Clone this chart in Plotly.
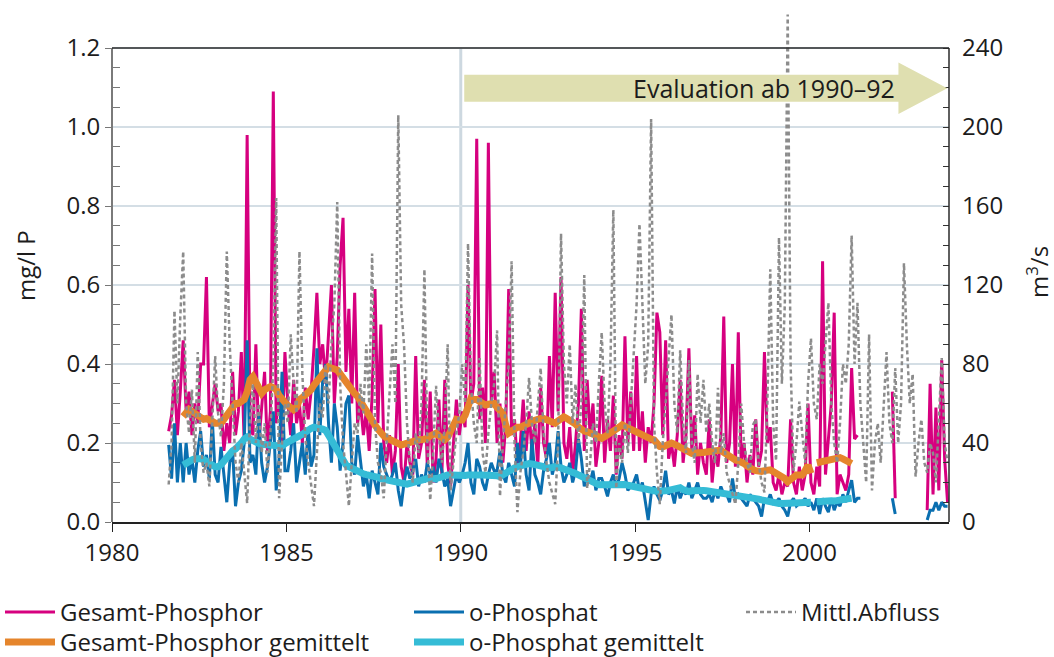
import pandas as pd
import plotly.graph_objects as go

N = None

# Monthly sampling (mid-month), Aug 1981 – Dec 2003
months = pd.period_range("1981-08", "2003-12", freq="M")
t = [p.year + (p.month - 0.5) / 12 for p in months]

# Gesamt-Phosphor, mg/l P
gesamt_p = [
    0.23, 0.27, 0.36, 0.22, 0.33,                                        # 1981
    0.46, 0.28, 0.33, 0.22, 0.30, 0.25, 0.40, 0.40, 0.62, 0.24, 0.30, 0.35,  # 1982
    0.28, 0.30, 0.18, 0.25, 0.20, 0.38, 0.22, 0.28, 0.43, 0.20, 0.98, 0.25,  # 1983
    0.22, 0.45, 0.20, 0.30, 0.38, 0.18, 0.28, 1.09, 0.25, 0.33, 0.20, 0.43,  # 1984
    0.30, 0.22, 0.36, 0.25, 0.30, 0.20, 0.34, 0.26, 0.33, 0.44, 0.58, 0.40,  # 1985
    0.45, 0.35, 0.48, 0.60, 0.30, 0.42, 0.65, 0.77, 0.38, 0.54, 0.30, 0.58,  # 1986
    0.25, 0.30, 0.22, 0.28, 0.18, 0.32, 0.59, 0.25, 0.50, 0.20, 0.15, 0.22,  # 1987
    0.12, 0.18, 0.40, 0.14, 0.10, 0.20, 0.15, 0.12, 0.42, 0.16, 0.20, 0.36,  # 1988
    0.14, 0.33, 0.10, 0.16, 0.31, 0.12, 0.36, 0.15, 0.09, 0.20, 0.31, 0.22,  # 1989
    0.28, 0.24, 0.60, 0.30, 0.35, 0.97, 0.26, 0.34, 0.20, 0.96, 0.30, 0.38,  # 1990
    0.20, 0.30, 0.15, 0.25, 0.59, 0.22, 0.26, 0.14, 0.20, 0.31, 0.18, 0.28,  # 1991
    0.18, 0.25, 0.14, 0.34, 0.20, 0.16, 0.42, 0.24, 0.58, 0.28, 0.62, 0.20,  # 1992
    0.16, 0.24, 0.12, 0.20, 0.30, 0.54, 0.18, 0.36, 0.22, 0.30, 0.14, 0.20,  # 1993
    0.37, 0.15, 0.26, 0.18, 0.32, 0.12, 0.22, 0.16, 0.47, 0.20, 0.33, 0.18,  # 1994
    0.42, 0.18, 0.28, 0.15, 0.24, 0.20, 0.30, 0.53, 0.48, 0.22, 0.46, 0.16,  # 1995
    0.20, 0.14, 0.22, 0.36, 0.15, 0.22, 0.44, 0.18, 0.27, 0.12, 0.20, 0.15,  # 1996
    0.12, 0.26, 0.10, 0.18, 0.14, 0.22, 0.52, 0.15, 0.20, 0.40, 0.14, 0.48,  # 1997
    0.15, 0.20, 0.10, 0.17, 0.12, 0.26, 0.14, 0.18, 0.43, 0.20, 0.24, 0.10,  # 1998
    0.08, 0.12, 0.07, 0.10, 0.09, 0.26, 0.10, 0.07, 0.14, 0.08, 0.12, 0.30,  # 1999
    0.10, 0.07, 0.14, 0.09, 0.66, 0.12, 0.20, 0.30, 0.53, 0.07, 0.12, 0.10,  # 2000
    0.08, 0.12, 0.39, 0.21, 0.22, N, N, N, N, N, N, N,                       # 2001
    N, N, N, N, 0.33, 0.06, N, N, N, N, N, N,                                # 2002
    N, N, N, N, 0.03, 0.35, 0.07, 0.29, 0.08, 0.41, 0.16, 0.05,              # 2003
]

# o-Phosphat, mg/l P
ortho_p = [
    0.195, 0.11, 0.25, 0.10, 0.20,                                        # 1981
    0.10, 0.20, 0.12, 0.16, 0.10, 0.18, 0.23, 0.14, 0.17, 0.11, 0.26, 0.12,  # 1982
    0.10, 0.19, 0.12, 0.05, 0.15, 0.18, 0.04, 0.10, 0.13, 0.20, 0.46, 0.15,  # 1983
    0.17, 0.12, 0.27, 0.15, 0.10, 0.14, 0.20, 0.28, 0.08, 0.16, 0.38, 0.13,  # 1984
    0.13, 0.18, 0.25, 0.10, 0.15, 0.20, 0.12, 0.24, 0.14, 0.17, 0.44, 0.22,  # 1985
    0.36, 0.40, 0.25, 0.15, 0.30, 0.24, 0.13, 0.20, 0.30, 0.32, 0.15, 0.12,  # 1986
    0.22, 0.15, 0.09, 0.12, 0.06, 0.13, 0.10, 0.07, 0.20, 0.14, 0.12, 0.10,  # 1987
    0.12, 0.15, 0.08, 0.04, 0.10, 0.14, 0.11, 0.13, 0.16, 0.09, 0.12, 0.10,  # 1988
    0.15, 0.12, 0.14, 0.10, 0.16, 0.13, 0.09, 0.11, 0.04, 0.08, 0.12, 0.10,  # 1989
    0.12, 0.15, 0.20, 0.10, 0.07, 0.16, 0.14, 0.10, 0.08, 0.12, 0.15, 0.13,  # 1990
    0.13, 0.18, 0.12, 0.10, 0.15, 0.12, 0.09, 0.20, 0.14, 0.23, 0.12, 0.08,  # 1991
    0.21, 0.12, 0.10, 0.07, 0.13, 0.16, 0.20, 0.12, 0.15, 0.23, 0.14, 0.10,  # 1992
    0.12, 0.15, 0.10, 0.13, 0.21, 0.16, 0.09, 0.12, 0.10, 0.13, 0.08, 0.11,  # 1993
    0.11, 0.09, 0.065, 0.10, 0.12, 0.09, 0.11, 0.15, 0.12, 0.08, 0.09, 0.10,  # 1994
    0.12, 0.08, 0.10, 0.05, 0.005, 0.07, 0.09, 0.07, 0.055, 0.08, 0.13, 0.07,  # 1995
    0.08, 0.047, 0.09, 0.06, 0.08, 0.07, 0.10, 0.06, 0.08, 0.10, 0.07, 0.06,  # 1996
    0.06, 0.07, 0.05, 0.08, 0.06, 0.09, 0.07, 0.07, 0.05, 0.11, 0.06, 0.07,  # 1997
    0.06, 0.05, 0.04, 0.07, 0.06, 0.05, 0.04, 0.014, 0.06, 0.05, 0.07, 0.047,  # 1998
    0.05, 0.06, 0.04, 0.03, 0.014, 0.05, 0.06, 0.04, 0.047, 0.05, 0.06, 0.04,  # 1999
    0.05, 0.03, 0.06, 0.02, 0.06, 0.04, 0.025, 0.06, 0.03, 0.05, 0.04, 0.07,  # 2000
    0.05, 0.08, 0.106, 0.05, 0.06, 0.06, N, N, N, N, N, N,                  # 2001
    N, N, N, N, 0.06, 0.02, N, N, N, N, N, N,                                # 2002
    N, N, N, N, 0.005, 0.03, 0.03, 0.05, 0.03, 0.05, 0.04, 0.04,            # 2003
]

# Gesamt-Phosphor, gleitendes Mittel
gesamt_p_mittel = [
    N, N, N, N, N,                                                                       # 1981
    0.267, 0.28, 0.285, 0.28, 0.275, 0.27, 0.265, 0.26, 0.262, 0.26, 0.255, 0.25,        # 1982
    0.25, 0.25, 0.26, 0.27, 0.28, 0.29, 0.30, 0.30, 0.305, 0.31, 0.33, 0.36,             # 1983
    0.368, 0.355, 0.34, 0.326, 0.335, 0.34, 0.343, 0.34, 0.335, 0.32, 0.31, 0.30,        # 1984
    0.295, 0.29, 0.284, 0.29, 0.31, 0.315, 0.32, 0.326, 0.335, 0.347, 0.355, 0.365,      # 1985
    0.376, 0.385, 0.393, 0.39, 0.388, 0.385, 0.375, 0.364, 0.352, 0.343, 0.332, 0.325,   # 1986
    0.318, 0.305, 0.29, 0.28, 0.27, 0.255, 0.245, 0.235, 0.225, 0.218, 0.213, 0.21,      # 1987
    0.208, 0.205, 0.20, 0.195, 0.197, 0.20, 0.203, 0.205, 0.207, 0.208, 0.208, 0.208,    # 1988
    0.212, 0.218, 0.222, 0.225, 0.218, 0.212, 0.208, 0.215, 0.228, 0.242, 0.26, 0.258,   # 1989
    0.258, 0.27, 0.29, 0.313, 0.31, 0.31, 0.305, 0.30, 0.296, 0.298, 0.30, 0.30,         # 1990
    0.29, 0.283, 0.275, 0.245, 0.225, 0.23, 0.237, 0.24, 0.24, 0.242, 0.245, 0.25,       # 1991
    0.255, 0.258, 0.26, 0.262, 0.262, 0.258, 0.254, 0.25, 0.25, 0.256, 0.262, 0.266,     # 1992
    0.262, 0.258, 0.254, 0.248, 0.24, 0.233, 0.23, 0.228, 0.226, 0.225, 0.22, 0.215,     # 1993
    0.212, 0.216, 0.222, 0.226, 0.229, 0.235, 0.24, 0.246, 0.242, 0.238, 0.235, 0.233,   # 1994
    0.228, 0.224, 0.22, 0.217, 0.214, 0.21, 0.208, 0.198, 0.191, 0.19, 0.192, 0.195,     # 1995
    0.20, 0.197, 0.193, 0.191, 0.186, 0.18, 0.174, 0.174, 0.175, 0.174, 0.174, 0.176,    # 1996
    0.177, 0.178, 0.179, 0.18, 0.181, 0.182, 0.176, 0.17, 0.165, 0.16, 0.157, 0.155,     # 1997
    0.153, 0.148, 0.142, 0.136, 0.133, 0.13, 0.127, 0.128, 0.13, 0.131, 0.132, 0.128,    # 1998
    0.124, 0.121, 0.119, 0.11, 0.102, 0.108, 0.115, 0.119, 0.119, 0.119, 0.13, 0.144,    # 1999
    0.123, N, 0.15, 0.152, 0.155, 0.157, 0.157, 0.157, 0.16, 0.162, 0.163, 0.16,         # 2000
    0.155, 0.15, 0.148, N, N, N, N, N, N, N, N, N,                                       # 2001
    N, N, N, N, N, N, N, N, N, N, N, N,                                                  # 2002
    N, N, N, N, N, N, N, N, N, N, N, N,                                                  # 2003
]

# o-Phosphat, gleitendes Mittel
ortho_p_mittel = [
    N, N, N, N, N,                                                                       # 1981
    0.144, 0.15, 0.155, 0.157, 0.16, 0.161, 0.16, 0.158, 0.152, 0.148, 0.144, 0.14,      # 1982
    0.14, 0.145, 0.155, 0.165, 0.174, 0.18, 0.185, 0.19, 0.20, 0.21, 0.215, 0.21,        # 1983
    0.205, 0.20, 0.199, 0.197, 0.196, 0.195, 0.195, 0.193, 0.19, 0.19, 0.192, 0.198,     # 1984
    0.203, 0.207, 0.21, 0.215, 0.218, 0.222, 0.228, 0.232, 0.237, 0.24, 0.24, 0.237,     # 1985
    0.235, 0.232, 0.22, 0.207, 0.195, 0.18, 0.165, 0.155, 0.145, 0.14, 0.136, 0.13,      # 1986
    0.127, 0.124, 0.122, 0.12, 0.119, 0.117, 0.115, 0.113, 0.11, 0.108, 0.106, 0.104,    # 1987
    0.102, 0.10, 0.098, 0.096, 0.095, 0.096, 0.098, 0.10, 0.103, 0.106, 0.108, 0.11,     # 1988
    0.11, 0.109, 0.108, 0.11, 0.112, 0.115, 0.118, 0.119, 0.119, 0.118, 0.119, 0.12,     # 1989
    0.119, 0.118, 0.119, 0.12, 0.12, 0.119, 0.119, 0.119, 0.119, 0.12, 0.12, 0.119,      # 1990
    0.117, 0.115, 0.12, 0.127, 0.132, 0.134, 0.137, 0.14, 0.143, 0.146, 0.148, 0.148,    # 1991
    0.147, 0.146, 0.144, 0.142, 0.14, 0.137, 0.136, 0.138, 0.14, 0.14, 0.137, 0.134,     # 1992
    0.132, 0.13, 0.128, 0.123, 0.119, 0.115, 0.11, 0.106, 0.102, 0.098, 0.095, 0.094,    # 1993
    0.094, 0.094, 0.094, 0.095, 0.096, 0.097, 0.098, 0.097, 0.095, 0.093, 0.091, 0.089,  # 1994
    0.088, 0.087, 0.085, 0.083, 0.081, 0.08, 0.079, 0.078, 0.077, 0.078, 0.079, 0.08,    # 1995
    0.082, 0.086, 0.089, 0.087, 0.082, 0.078, 0.077, 0.079, 0.08, 0.081, 0.081, 0.08,    # 1996
    0.079, 0.078, 0.077, 0.077, 0.076, 0.075, 0.074, 0.072, 0.07, 0.068, 0.066, 0.065,   # 1997
    0.064, 0.063, 0.062, 0.061, 0.06, 0.06, 0.058, 0.056, 0.054, 0.052, 0.05, 0.049,     # 1998
    0.048, 0.047, 0.047, 0.047, 0.047, 0.047, 0.047, 0.047, 0.048, 0.048, 0.049, 0.049,  # 1999
    0.05, N, 0.051, 0.052, 0.053, 0.055, 0.055, 0.054, 0.053, 0.053, 0.055, 0.057,       # 2000
    0.058, 0.059, 0.06, N, N, N, N, N, N, N, N, N,                                       # 2001
    N, N, N, N, N, N, N, N, N, N, N, N,                                                  # 2002
    N, N, N, N, N, N, N, N, N, N, N, N,                                                  # 2003
]

# Mittlerer Abfluss, m³/s
abfluss = [
    19, 40, 107, 60, 104,                                  # 1981
    137, 60, 45, 67, 30, 86, 40, 25, 30, 18, 50, 84,       # 1982
    55, 43, 70, 137, 90, 60, 30, 20, 40, 25, 9.5, 52,      # 1983
    70, 40, 60, 35, 50, 25, 45, 80, 164, 12, 40, 60,       # 1984
    50, 95, 70, 55, 137, 75, 43, 30, 20, 8, 35, 60,        # 1985
    53, 80, 60, 90, 110, 162, 70, 40, 25, 8, 30, 50,       # 1986
    45, 70, 55, 90, 60, 136, 50, 30, 25, 12, 40, 65,       # 1987
    90, 60, 206, 110, 89, 50, 30, 20, 45, 35, 60, 128,     # 1988
    40, 11, 35, 69, 45, 30, 50, 90, 16, 30, 45, 55,        # 1989
    80, 60, 141, 70, 50, 40, 83, 35, 25, 45, 60, 70,       # 1990
    97, 13, 40, 60, 80, 132, 40, 5, 25, 35, 50, 73,        # 1991
    50, 40, 60, 78, 45, 30, 20, 15, 9, 40, 146, 80,        # 1992
    60, 90, 50, 70, 40, 60, 125, 17, 30, 50, 40, 70,       # 1993
    96, 60, 45, 80, 158, 17, 40, 30, 50, 35, 60, 80,       # 1994
    110, 151, 106, 70, 90, 204, 50, 25, 9, 40, 60, 80,     # 1995
    105, 60, 45, 87, 50, 35, 82, 40, 30, 75, 50, 72,       # 1996
    45, 60, 40, 30, 68, 35, 45, 25, 20, 15, 9, 30,         # 1997
    60, 40, 30, 25, 49, 52, 30, 20, 15, 60, 128, 50,       # 1998
    31, 144, 70, 110, 257, 80, 26, 40, 61, 45, 30, 70,     # 1999
    93, 60, 52, 80, 70, 90, 111, 60, 40, 30, 50, 80,       # 2000
    70, 90, 145, 80, 111, 60, 40, 20, 95, 16, 40, 50,      # 2001
    30, 60, 86, 50, 40, 78, 40, 60, 131, 90, 60, 75,       # 2002
    23, 40, 52, 30, 25, 40, 35, 20, 50, 83, 40, 30,        # 2003
]

year_ticks = [1980, 1985, 1990, 1995, 2000]
conc_ticks = [0.0, 0.2, 0.4, 0.6, 0.8, 1.0, 1.2]
flow_ticks = [0, 40, 80, 120, 160, 200, 240]

PINK = "#d6007f"
BLUE = "#0a6fb0"
ORANGE = "#e5852c"
CYAN = "#35bcd6"
GREY = "#8c8c8c"
TXT = "#1c1c1c"
FONT = "Open Sans"

# The frame ends at 1.2 / 240, but the plotting area reaches higher so that
# discharge peaks above 240 m³/s stay visible.
W, H = 1054, 657
M_L, M_R, M_T, M_B = 112, 105, 10, 135
plot_w = W - M_L - M_R
plot_h = H - M_T - M_B
frame_h = 474
y_top = 1.2 * plot_h / frame_h
y2_top = 240 * plot_h / frame_h

conc_minor = [round(0.05 * i, 2) for i in range(1, 24) if i % 4]
flow_minor = [10 * i for i in range(1, 24) if i % 4]

fig = go.Figure()
fig.add_trace(go.Scatter(x=t, y=gesamt_p, name="Gesamt-Phosphor", mode="lines",
                         line=dict(color=PINK, width=3), legend="legend"))
fig.add_trace(go.Scatter(x=t, y=ortho_p, name="o-Phosphat", mode="lines",
                         line=dict(color=BLUE, width=3), legend="legend2"))
fig.add_trace(go.Scatter(x=t, y=gesamt_p_mittel, name="Gesamt-Phosphor gemittelt", mode="lines",
                         line=dict(color=ORANGE, width=7), legend="legend4"))
fig.add_trace(go.Scatter(x=t, y=ortho_p_mittel, name="o-Phosphat gemittelt", mode="lines",
                         line=dict(color=CYAN, width=7), legend="legend5"))
fig.add_trace(go.Scatter(x=t, y=abfluss, name="Mittl.Abfluss", mode="lines", yaxis="y2",
                         line=dict(color=GREY, width=2.5, dash="4px,3px"), legend="legend3"))

# one legend per entry, placed on the page so they do not shrink the plot area
def legend_at(px, py):
    return dict(xref="container", yref="container", x=px / W, y=(H - py) / H,
                yanchor="top", xanchor="left", orientation="v", itemwidth=50,
                font=dict(family=FONT, size=24, color=TXT), bgcolor="rgba(0,0,0,0)")

ROW1, ROW2 = 590, 620
COL1, COL2, COL3 = 0, 409, 741

fig.update_layout(
    width=W, height=H,
    margin=dict(l=M_L, r=M_R, t=M_T, b=M_B, autoexpand=False),
    paper_bgcolor="white", plot_bgcolor="white",
    font=dict(family=FONT, size=24, color=TXT),
    showlegend=True,
    legend=legend_at(COL1, ROW1),
    legend2=legend_at(COL2, ROW1),
    legend3=legend_at(COL3, ROW1),
    legend4=legend_at(COL1, ROW2),
    legend5=legend_at(COL2, ROW2),
    xaxis=dict(range=[1980, 2004], tickvals=year_ticks, ticks="outside", ticklen=8,
               tickcolor="#222", tickwidth=1.2, showline=True, linecolor="#222", linewidth=1.5,
               showgrid=False, zeroline=False, tickfont=dict(size=24, color=TXT)),
    yaxis=dict(range=[0, y_top], tickvals=conc_ticks, tickformat=".1f", ticks="outside",
               ticklen=6, tickcolor="#777", tickwidth=1.2, showline=False,
               showgrid=True, gridcolor="#d4dee5", gridwidth=1.5, zeroline=False,
               tickfont=dict(size=24, color=TXT),
               minor=dict(tickvals=conc_minor, ticks="inside", ticklen=8,
                          tickcolor="#777", tickwidth=1.2, showgrid=False)),
    yaxis2=dict(overlaying="y", side="right", anchor="x", range=[0, y2_top],
                tickvals=flow_ticks, ticks="inside", ticklen=6, tickcolor="#333",
                tickwidth=1.2, showline=False, showgrid=False, zeroline=False,
                ticklabelstandoff=12, tickfont=dict(size=24, color=TXT),
                minor=dict(tickvals=flow_minor, ticks="inside", ticklen=6,
                           tickcolor="#333", tickwidth=1.2, showgrid=False)),
)

# axis titles
fig.add_annotation(x=(25 - M_L) / plot_w, y=(H - M_B - 266) / plot_h, xref="paper", yref="paper",
                   text="mg/l P", textangle=-90, showarrow=False,
                   xanchor="center", yanchor="middle", font=dict(family=FONT, size=24, color=TXT))
fig.add_annotation(x=(1037 - M_L) / plot_w, y=(H - M_B - 272) / plot_h, xref="paper", yref="paper",
                   text="m<sup>3</sup>/s", textangle=-90, showarrow=False,
                   xanchor="center", yanchor="middle", font=dict(family=FONT, size=24, color=TXT))

# frame, 1990 marker and the evaluation arrow
fig.add_shape(type="line", xref="x", yref="y", x0=1990, x1=1990, y0=0, y1=1.2,
              line=dict(color="#cdd8e0", width=3), layer="below")
fig.add_shape(type="line", xref="paper", yref="y", x0=0, x1=0, y0=0, y1=1.2,
              line=dict(color="#7a7a7a", width=2), layer="above")
fig.add_shape(type="line", xref="paper", yref="y", x0=1, x1=1, y0=0, y1=1.2,
              line=dict(color="#2a2a2a", width=1.5), layer="above")
fig.add_shape(type="line", xref="paper", yref="y", x0=0, x1=1, y0=1.2, y1=1.2,
              line=dict(color="#2a2a2a", width=1.5), layer="above")
fig.add_shape(type="path", xref="x", yref="y", layer="above",
              path="M 1990.1,1.064 L 2002.55,1.064 L 2002.55,1.033 L 2003.95,1.098 "
                   "L 2002.55,1.163 L 2002.55,1.132 L 1990.1,1.132 Z",
              fillcolor="#dfdfb0", line=dict(width=0))
fig.add_annotation(x=2002.5, y=1.098, xref="x", yref="y", text="Evaluation ab 1990–92",
                   showarrow=False, xanchor="right", yanchor="middle",
                   font=dict(family=FONT, size=25, color=TXT))

fig.write_html("out.html")
